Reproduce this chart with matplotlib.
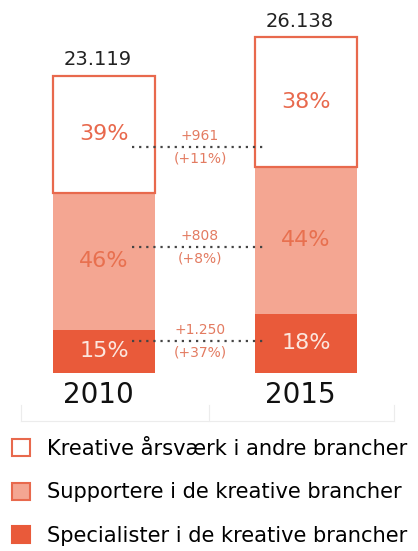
import matplotlib.pyplot as plt
from matplotlib.patches import Patch
from matplotlib.lines import Line2D

# Data (number of creative full-time jobs)
years = ["2010", "2015"]
specialists = [3378, 4628]
supporters = [10635, 11443]
others = [9106, 10067]
totals = ["23.119", "26.138"]
share_spec = ["15%", "18%"]
share_supp = ["46%", "44%"]
share_other = ["39%", "38%"]
change_abs = ["+1.250", "+808", "+961"]
change_pct = ["(+37%)", "(+8%)", "(+11%)"]
legend_labels = ["Kreative årsværk i andre brancher",
                 "Supportere i de kreative brancher",
                 "Specialister i de kreative brancher"]

# Colours
c_spec = "#E95A3A"
c_supp = "#F4A692"
c_edge = "#E8694D"
c_note = "#E37B61"

plt.rcParams['font.family'] = ['DejaVu Sans']

W, H = 418, 551
fig = plt.figure(figsize=(W / 100, H / 100), dpi=100)
ax = fig.add_axes([0, 178 / H, 1, 373 / H])
ax.set_xlim(-104 / 202, 314 / 202)
ax.set_ylim(0, 29034)
ax.axis("off")

x = [0, 1]
width = 0.505
bottom2 = [a + b for a, b in zip(specialists, supporters)]
ax.bar(x, specialists, width, color=c_spec, linewidth=0)
ax.bar(x, supporters, width, bottom=specialists, color=c_supp, linewidth=0)
ax.bar(x, others, width, bottom=bottom2, color="white", edgecolor=c_edge, linewidth=1.6)

for i in x:
    total = specialists[i] + supporters[i] + others[i]
    ax.text(i, specialists[i] / 2, share_spec[i], ha="center", va="center",
            fontsize=16, color="#FCE6DE")
    ax.text(i, specialists[i] + supporters[i] / 2, share_supp[i], ha="center",
            va="center", fontsize=16, color="#E8704F")
    ax.text(i, bottom2[i] + others[i] / 2, share_other[i], ha="center",
            va="center", fontsize=16, color=c_edge)
    ax.text(i - 0.03, total + 1250, totals[i], ha="center", va="center",
            fontsize=14, color="#222222")
    ax.text(i - 0.03, -1750, years[i], ha="center", va="center",
            fontsize=20, color="#111111", clip_on=False)

# dotted connectors with change labels
link_y = [2491, 9808, 17592]
for k in range(3):
    ax.plot([0.139, 0.807], [link_y[k], link_y[k]], ls=(0, (1, 2.2)),
            color="#444444", lw=1.6)
    ax.text(0.475, link_y[k] + 850, change_abs[k], ha="center", va="center",
            fontsize=10, color=c_note)
    ax.text(0.475, link_y[k] - 900, change_pct[k], ha="center", va="center",
            fontsize=10, color=c_note)

# faint baseline artefact
faint = "#ececec"
fig.add_artist(Line2D([21 / W, 394 / W], [1 - 421 / H, 1 - 421 / H], color=faint, lw=0.8))
for px in [21, 209, 394]:
    fig.add_artist(Line2D([px / W, px / W], [1 - 405 / H, 1 - 421 / H], color=faint, lw=0.8))

handles = [Patch(facecolor="white", edgecolor=c_edge, linewidth=1.5),
           Patch(facecolor=c_supp, edgecolor=c_edge, linewidth=1.5),
           Patch(facecolor=c_spec, edgecolor=c_spec, linewidth=1.5)]
fig.legend(handles, legend_labels, loc="upper left",
           bbox_to_anchor=(12 / W, 1 - 439 / H), frameon=False,
           fontsize=15.1, handlelength=0.86, handleheight=0.86,
           handletextpad=0.81, labelspacing=1.12, borderpad=0,
           borderaxespad=0)

fig.savefig("out.png", dpi=100)
